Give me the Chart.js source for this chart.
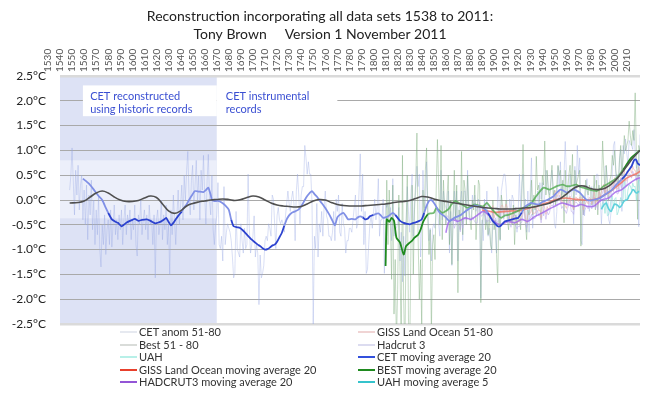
<!DOCTYPE html>
<html>
<head>
<meta charset="utf-8">
<title>CET reconstruction 1538 to 2011</title>
<script src="https://cdn.jsdelivr.net/npm/chart.js@4.4.0/dist/chart.umd.min.js"></script>
<style>
  body { margin: 0; background: #fff; }
  #wrap { position: relative; width: 649px; height: 393px; }
  #legend { position: absolute; left: 0; top: 0; font: 11px Lato, sans-serif; color: #333; }
  .item { position: absolute; white-space: nowrap; line-height: 13px; height: 13px; }
  .swatch { position: absolute; top: 6px; height: 2px; width: 17px; }
</style>
</head>
<body>
<div id="wrap">
  <canvas id="chart" width="649" height="393"></canvas>
  <div id="legend"></div>
</div>
<script>
const titleLines = ['Reconstruction incorporating all data sets 1538 to 2011:', 'Tony Brown     Version 1 November 2011'];
const noteReconstructed = ['CET reconstructed', 'using historic records'];
const noteInstrumental = ['CET instrumental', 'records'];

// legend, read column by column
const legendLeft = ['CET anom 51-80', 'Best 51 - 80', 'UAH', 'GISS Land Ocean moving average 20', 'HADCRUT3 moving average 20'];
const legendRight = ['GISS Land Ocean  51-80', 'Hadcrut 3', 'CET moving average 20', 'BEST  moving average 20', 'UAH moving average 5'];

// annual anomalies (°C)
const cetAnomStart = 1538;
const cetAnom = [
    0.2, 0.5,
    1.05, 0.4, -0.3, 0.6, 0.1, 0.7, -0.2, 0.3, 0.5, -0.4,
    0.2, -0.5, 0.3, -0.8, 0.1, -0.3, 0.4, -0.6, 0.0, -0.9,
    -0.2, -0.7, 0.1, -1.0, -1.35, -0.5, -0.9, -0.3, -1.1, -0.6,
    -0.4, -0.9, -0.2, -0.95, -0.5, -0.1, -0.7, -0.4, -0.8, -0.3,
    -0.6, -0.2, -0.9, -0.4, -0.1, -0.7, -0.3, -0.5, -0.2, -0.8,
    -0.4, -0.6, -0.1, -0.9, -1.13, -0.3, -0.5, 0.0, -0.7, -0.4,
    -0.2, -0.6, -0.3, -0.8, -0.1, -0.5, -0.4, -0.9, -0.3, -1.57,
    -0.4, -0.2, -0.7, -0.5, 0.0, -0.8, -0.3, -0.6, -0.1, -0.9,
    -0.5, -1.5, -0.2, -0.7, 0.1, -0.4, -0.9, -0.3, 0.2, -0.5,
    -0.1, 0.3, -0.4, 0.5, 0.0, 0.6, 0.98, 0.1, -0.3, 0.4,
    0.7, -0.2, 0.3, 0.8, 0.0, 0.5, -0.4, 0.6, 0.2, 0.9,
    0.1, -0.5, 0.4, 0.92, 0.0, -0.3, 0.5, -0.6, -0.9, -0.5,
    -0.32, 0.35, -0.9, -0.98, -0.73, -1.23, 0.27, -0.9, -0.65, -0.48,
    -0.57, -0.65, -0.82, -1.15, -1.57, -1.48, -0.23, -0.98, -1.07, -1.15,
    -0.48, -0.82, -1.07, -0.57, -0.98, -0.9, 0.52, -0.57, -1.07, -0.9,
    -0.73, -0.32, -1.15, -0.9, -1.07, -2.11, -1.11, -1.57, -1.48, -1.32,
    -0.82, -0.73, -0.82, -0.48, -0.57, -0.73, 0.1, 0.02, -0.48, -0.98,
    -0.32, -0.15, -0.4, -0.48, -0.4, -0.48, -0.65, -0.32, -0.07, 0.18,
    -0.07, -0.23, 0.02, 0.18, -0.07, -0.82, 0.18, 0.52, 0.1, -0.48,
    0.1, 0.27, 0.27, 1.1, 0.85, 0.52, 0.77, 0.52, 0.52, -0.07,
    -2.56, -0.73, -0.98, -0.07, -1.15, -0.48, -0.65, -0.23, -0.73, -0.15,
    0.18, -0.32, -0.4, -0.73, -0.73, -0.82, -0.65, -0.23, -0.82, 0.02,
    -0.23, 0.1, -0.65, -0.73, -0.07, -0.48, -0.57, -1.07, -0.82, -0.82,
    -0.57, -0.57, -0.65, -0.4, -0.15, 0.1, -0.57, -0.48, 0.18, 0.93,
    -0.23, 0.52, -0.9, -0.23, -1.48, -1.4, -0.9, -0.48, -0.32, -0.57,
    -0.23, 0.02, -0.4, -0.15, 0.43, -0.73, -0.4, -0.4, 0.02, -1.48,
    -0.07, -0.15, -0.07, -0.32, -0.15, -0.82, 0.43, -0.73, -0.57, -0.57,
    -0.48, -0.15, -1.23, -0.65, -1.65, -0.73, -1.53, -0.48, 0.27, -0.23,
    -0.65, 0.1, 0.52, -0.73, -0.07, 0.18, 0.68, 0.27, 0.52, -1.15,
    -0.48, 0.6, -0.15, -0.15, 0.77, -0.15, -0.82, -0.57, -1.23, -0.57,
    -0.48, -0.57, -0.23, -0.15, -0.48, -0.73, 0.6, -0.4, 0.18, -0.07,
    -0.15, -0.23, 0.18, -1.07, -0.23, -1.32, -0.4, 0.18, -0.4, 0.18,
    -1.23, -0.15, -0.07, 0.18, -0.82, 0.18, 0.18, -0.4, 0.6, -0.32,
    -0.4, -0.4, 0.1, -0.15, 0.1, -0.23, -0.15, 0.02, -0.07, -1.98,
    -0.4, -0.82, 0.02, -0.48, 0.18, -0.73, -0.57, -0.82, -1.07, -0.48,
    -0.48, -0.57, -1.07, 0.27, 0.02, -0.82, 0.18, 0.35, 0.52, 0.52,
    0.27, -0.32, -0.4, 0.02, -0.23, 0.1, 0.02, -0.32, -0.15, -0.65,
    -0.23, 0.52, -0.15, 0.35, 0.52, -0.15, 0.02, -0.65, 0.18, -0.65,
    0.18, 0.85, -0.57, -0.15, -0.15, -0.32, 0.18, -0.07, 0.35, 0.02,
    0.35, -0.32, 0.1, 0.6, 0.52, 0.18, 0.1, 0.27, 0.6, 0.27,
    -0.48, -0.57, -0.23, 0.68, 0.27, 0.77, 0.1, 0.18, 0.52, 1.18,
    0.52, -0.07, -0.07, 0.52, 0.1, 0.02, -0.48, 0.68, 0.1, 1.1,
    0.52, 0.85, -0.82, -0.9, 0.02, -0.32, 0.18, 0.43, 0.02, -0.23,
    0.02, 0.27, -0.15, 0.27, 0.35, 0.52, 0.52, 0.1, 0.02, -0.48,
    0.02, -0.07, 0.68, 0.68, 0.43, -0.4, -0.48, -0.23, 0.52, 1.1,
    1.18, 0.35, 0.52, 0.18, 0.85, 1.02, -0.23, 1.1, 0.93, 1.23,
    0.93, 0.73, 1.2, 1.12, 1.1, 1.02, 1.42, 0.94, 0.64, 0.73,
    -0.54, 1.32
];

const bestStart = 1800;
const best = [
    -1.3, 0.4, -0.9, 0.2, -0.5, -1.6, 0.3, -2.3, -1.2, -2.9,
    -1.8, 0.1, -1.4, -3.0, 0.9, -2.0, -3.2, -0.6, 0.5, -2.4,
    -3.1, -1.0, 0.3, -1.5, -0.2, 0.4, 1.35, -0.8, -2.0, -1.2,
    -2.6, 0.2, -0.4, 0.6, 1.05, -0.3, -1.1, -0.6, -2.7, -0.9,
    -0.7, -1.2, 0.2, 1.22, 0.3, -0.5, 1.1, -0.8, 0.4, -0.2,
    -0.5, 0.1, 0.5, -0.9, 0.0, -1.3, -0.3, 0.6, -0.4, 0.3,
    -1.87, -0.2, -0.6, 0.98, -0.7, 0.4, 0.2, -0.5, 0.5, -0.1,
    -0.4, -0.6, 0.0, -0.2, 0.3, -0.8, -0.3, 0.4, 0.3, -2.07,
    -0.5, -0.3, -0.1, -0.6, -0.4, -0.7, -0.3, -0.9, -1.0, 0.0,
    -0.6, -0.4, -1.1, -1.67, -0.2, -0.8, 0.1, -0.1, -0.3, -0.2,
    0.0, -0.4, -0.6, -0.2, -0.3, -0.5, -0.1, -0.9, -0.3, -0.5,
    -0.4, -0.2, -0.6, 0.1, 1.12, -0.1, -0.5, -0.8, -0.2, -0.3,
    -0.1, 0.4, -0.3, 0.1, -0.2, 0.88, 0.2, 0.3, -0.1, -0.4,
    0.5, 0.3, 1.19, 0.1, 0.6, 0.2, 0.0, 0.4, 0.7, 0.1,
    0.2, -0.1, 0.3, 0.7, 0.5, 0.6, 0.0, 0.4, -0.46, 0.6,
    -0.1, 0.2, 0.5, 0.7, 0.3, 0.92, -0.2, 0.6, 0.3, 0.4,
    0.5, 0.6, -0.93, 0.1, -0.3, 0.0, 0.4, 0.2, 0.1, 0.3,
    0.2, -0.1, 0.0, 0.5, -0.2, 0.4, -0.3, 0.3, 0.0, 0.2,
    1.19, 0.6, 0.1, 0.7, 0.2, 0.0, 0.4, 0.5, 0.9, 0.7,
    1.0, 0.6, 0.4, 0.3, 0.8, 1.1, 0.5, 0.9, 1.3, 1.0,
    1.1, 1.2, 1.59, 1.3, 1.1, 1.4, 1.2, 2.16, 0.9, -0.39,
    1.1, 1.0
];

const gissStart = 1880;
const giss = [
    -0.2, -0.12, -0.1, -0.21, -0.28, -0.32, -0.31, -0.33, -0.2, -0.11,
    -0.36, -0.27, -0.31, -0.32, -0.32, -0.23, -0.11, -0.11, -0.27, -0.17,
    -0.08, -0.15, -0.28, -0.37, -0.47, -0.26, -0.22, -0.39, -0.43, -0.48,
    -0.43, -0.44, -0.36, -0.34, -0.15, -0.14, -0.36, -0.46, -0.3, -0.27,
    -0.27, -0.19, -0.28, -0.26, -0.27, -0.22, -0.1, -0.22, -0.2, -0.36,
    -0.16, -0.1, -0.16, -0.29, -0.13, -0.2, -0.15, -0.03, 0.0, -0.02,
    0.13, 0.19, 0.07, 0.09, 0.2, 0.09, -0.07, -0.03, -0.11, -0.11,
    -0.17, -0.07, 0.01, 0.08, -0.13, -0.14, -0.19, 0.05, 0.06, 0.03,
    -0.03, 0.06, 0.03, 0.05, -0.2, -0.11, -0.06, -0.02, -0.08, 0.05,
    0.03, -0.08, 0.01, 0.16, -0.07, -0.01, -0.1, 0.18, 0.07, 0.16,
    0.26, 0.32, 0.14, 0.31, 0.16, 0.12, 0.18, 0.32, 0.39, 0.27,
    0.45, 0.41, 0.22, 0.23, 0.32, 0.45, 0.33, 0.46, 0.61, 0.38,
    0.39, 0.54, 0.63, 0.62, 0.54, 0.68, 0.61, 0.6, 0.49, 0.59,
    0.66, 0.55
];

const hadcrutStart = 1850;
const hadcrut = [
    -0.47, -0.32, -0.33, -0.37, -0.39, -0.4, -0.42, -0.57, -0.49, -0.38,
    -0.49, -0.53, -0.64, -0.4, -0.57, -0.39, -0.37, -0.41, -0.37, -0.37,
    -0.38, -0.42, -0.34, -0.39, -0.44, -0.47, -0.46, -0.16, -0.05, -0.31,
    -0.33, -0.26, -0.31, -0.34, -0.44, -0.42, -0.41, -0.46, -0.35, -0.23,
    -0.47, -0.36, -0.43, -0.44, -0.42, -0.36, -0.19, -0.21, -0.39, -0.28,
    -0.17, -0.25, -0.35, -0.47, -0.55, -0.38, -0.31, -0.49, -0.53, -0.58,
    -0.53, -0.54, -0.46, -0.45, -0.25, -0.24, -0.46, -0.56, -0.4, -0.38,
    -0.37, -0.29, -0.39, -0.37, -0.37, -0.32, -0.21, -0.32, -0.3, -0.46,
    -0.26, -0.2, -0.26, -0.39, -0.23, -0.3, -0.25, -0.13, -0.1, -0.12,
    0.03, 0.09, -0.03, -0.01, 0.1, -0.01, -0.17, -0.13, -0.21, -0.21,
    -0.27, -0.17, -0.09, -0.02, -0.23, -0.24, -0.29, -0.05, -0.04, -0.07,
    -0.13, -0.04, -0.07, -0.05, -0.3, -0.21, -0.16, -0.12, -0.18, -0.05,
    -0.07, -0.18, -0.09, 0.06, -0.17, -0.11, -0.2, 0.08, -0.03, 0.06,
    0.16, 0.22, 0.04, 0.21, 0.06, 0.02, 0.08, 0.22, 0.29, 0.17,
    0.35, 0.31, 0.12, 0.13, 0.22, 0.35, 0.23, 0.36, 0.51, 0.28,
    0.29, 0.44, 0.53, 0.52, 0.44, 0.58, 0.51, 0.5, 0.39, 0.49,
    0.47, 0.37
];

const uahStart = 1979;
const uah = [
    -0.17, -0.05, -0.08, -0.27, 0.02, -0.32, -0.3, -0.21, 0.04, 0.08,
    -0.17, 0.02, 0.05, -0.3, -0.24, -0.09, 0.05, -0.06, 0.03, 0.52,
    -0.02, 0.0, 0.2, 0.31, 0.28, 0.2, 0.34, 0.26, 0.28, -0.01,
    0.26, 0.41, 0.13
];

// moving averages (year, value)
const cetMAYears = [
    1549, 1554, 1558, 1562, 1565, 1568, 1570, 1573, 1576, 1578, 1581, 1583, 1585, 1588, 1590, 1592, 1595, 1598,
    1602, 1605, 1609, 1612, 1614, 1616, 1618, 1620, 1622, 1624, 1626, 1628, 1631, 1633, 1635, 1637, 1639, 1642,
    1645, 1649, 1651, 1653, 1655, 1656, 1658, 1661, 1664, 1667, 1670, 1672, 1674, 1677, 1679, 1682, 1685, 1687,
    1689, 1692, 1694, 1696, 1698, 1700, 1702, 1704, 1706, 1708, 1710, 1712, 1714, 1716, 1718, 1720, 1722, 1725,
    1728, 1731, 1733, 1735, 1737, 1739, 1741, 1743, 1745, 1747, 1750, 1753, 1756, 1758, 1760, 1762, 1765, 1767,
    1769, 1772, 1775, 1777, 1779, 1781, 1783, 1785, 1787, 1790, 1794, 1796, 1798, 1800, 1802, 1806, 1808, 1810,
    1812, 1815, 1818, 1820, 1822, 1825, 1828, 1830, 1832, 1834, 1836, 1838, 1841, 1843, 1845, 1849, 1851, 1853,
    1855, 1857, 1860, 1863, 1866, 1869, 1872, 1874, 1877, 1880, 1883, 1885, 1887, 1889, 1891, 1893, 1895, 1897,
    1899, 1902, 1905, 1908, 1910, 1913, 1916, 1919, 1921, 1924, 1927, 1930, 1934, 1937, 1939, 1942, 1945, 1948,
    1950, 1953, 1956, 1959, 1961, 1964, 1967, 1970, 1972, 1975, 1978, 1982, 1985, 1988, 1991, 1993, 1996, 1999,
    2001, 2004, 2006, 2007, 2008, 2009, 2010, 2011
];
const cetMA = [
    0.43, 0.33, 0.21, 0.08, 0.0, -0.16, -0.26, -0.39, -0.44, -0.46, -0.53, -0.5, -0.46, -0.42, -0.4, -0.38, -0.42, -0.4,
    -0.39, -0.42, -0.47, -0.45, -0.43, -0.4, -0.36, -0.44, -0.51, -0.46, -0.39, -0.32, -0.23, -0.15, -0.09, 0.0, 0.08, 0.18,
    0.17, 0.16, 0.2, 0.25, 0.1, 0.0, -0.02, -0.02, -0.05, -0.11, -0.2, -0.4, -0.53, -0.55, -0.56, -0.62, -0.7, -0.75,
    -0.8, -0.86, -0.9, -0.93, -0.97, -1.0, -0.99, -0.96, -0.92, -0.9, -0.84, -0.75, -0.66, -0.52, -0.39, -0.31, -0.26, -0.23,
    -0.19, -0.09, 0.0, 0.08, 0.14, 0.18, 0.12, 0.07, 0.0, -0.06, -0.16, -0.28, -0.42, -0.51, -0.35, -0.3, -0.26, -0.32,
    -0.39, -0.38, -0.39, -0.35, -0.33, -0.35, -0.39, -0.38, -0.33, -0.3, -0.27, -0.31, -0.36, -0.35, -0.33, -0.26, -0.3, -0.36,
    -0.42, -0.46, -0.48, -0.49, -0.47, -0.45, -0.42, -0.39, -0.26, -0.12, -0.02, 0.0, -0.09, -0.18, -0.26, -0.33, -0.38, -0.43,
    -0.4, -0.36, -0.33, -0.29, -0.23, -0.18, -0.14, -0.11, -0.13, -0.15, -0.2, -0.26, -0.35, -0.43, -0.48, -0.53, -0.53, -0.48,
    -0.43, -0.41, -0.39, -0.37, -0.36, -0.25, -0.13, -0.08, -0.06, -0.08, -0.09, -0.04, 0.0, 0.04, 0.07, 0.15, 0.21, 0.18,
    0.15, 0.18, 0.21, 0.18, 0.15, 0.07, 0.0, -0.01, 0.0, 0.02, 0.04, 0.11, 0.16, 0.21, 0.3, 0.35, 0.42, 0.5,
    0.58, 0.68, 0.8, 0.82, 0.8, 0.74, 0.72, 0.7
];

const bestMAYears = [
    1800, 1801, 1803, 1805, 1807, 1809, 1812, 1815, 1817, 1820, 1822, 1824, 1827, 1829, 1831, 1833, 1835, 1837,
    1840, 1842, 1844, 1847, 1850, 1852, 1855, 1858, 1861, 1864, 1868, 1871, 1874, 1877, 1881, 1884, 1887, 1891,
    1894, 1896, 1899, 1902, 1905, 1909, 1914, 1920, 1925, 1931, 1936, 1942, 1947, 1950, 1953, 1958, 1961, 1964,
    1969, 1975, 1978, 1981, 1986, 1992, 1997, 2000, 2003, 2007, 2011
];
const bestMA = [
    -1.33, -0.39, -0.44, -0.36, -0.42, -0.76, -0.86, -1.1, -0.93, -0.86, -0.82, -0.76, -0.7, -0.6, -0.45, -0.36, -0.29, -0.27,
    -0.26, -0.16, -0.2, -0.26, -0.22, -0.19, -0.08, -0.02, -0.06, -0.1, -0.16, -0.12, -0.09, -0.11, -0.13, -0.06, -0.15, -0.26,
    -0.33, -0.36, -0.31, -0.3, -0.27, -0.23, -0.16, -0.09, 0.08, 0.25, 0.21, 0.28, 0.31, 0.28, 0.28, 0.31, 0.27, 0.25,
    0.21, 0.18, 0.22, 0.28, 0.35, 0.45, 0.61, 0.72, 0.83, 0.92, 1.0
];

const gissMAYears = [
    1880, 1885, 1890, 1895, 1900, 1905, 1910, 1915, 1920, 1925, 1930, 1935, 1940, 1945, 1950, 1955, 1960, 1965,
    1970, 1975, 1980, 1985, 1990, 1995, 2000, 2005, 2008, 2011
];
const gissMA = [
    -0.2, -0.22, -0.25, -0.24, -0.23, -0.22, -0.22, -0.19, -0.16, -0.13, -0.08, -0.05, 0.0, 0.03, 0.04, 0.02, 0.01, 0.0,
    0.0, 0.02, 0.08, 0.15, 0.24, 0.34, 0.44, 0.5, 0.53, 0.58
];

const hadMAYears = [
    1850, 1852, 1855, 1860, 1866, 1871, 1877, 1881, 1885, 1890, 1895, 1898, 1902, 1907, 1913, 1918, 1924, 1930,
    1935, 1940, 1946, 1951, 1957, 1962, 1968, 1973, 1979, 1985, 1990, 1996, 2001, 2007, 2011
];
const hadMA = [
    -0.66, -0.46, -0.39, -0.43, -0.36, -0.39, -0.29, -0.23, -0.29, -0.43, -0.5, -0.47, -0.43, -0.46, -0.39, -0.43, -0.33, -0.26,
    -0.19, -0.13, -0.06, -0.09, -0.13, -0.09, -0.13, -0.12, 0.0, 0.04, 0.15, 0.21, 0.31, 0.41, 0.45
];

const uahMAStart = 1979;
const uahMA = [
    -0.19, -0.14, -0.1, -0.08, -0.06, -0.12, -0.18, -0.21, -0.23, -0.18,
    -0.12, -0.08, -0.09, -0.1, -0.12, -0.15, -0.13, -0.1, -0.05, -0.02,
    0.0, 0.0, 0.03, 0.09, 0.12, 0.16, 0.21, 0.2, 0.16, 0.14,
    0.15, 0.18
];

// smooth grey curve (not in the legend)
const trendYears = [
    1538, 1545, 1550, 1555, 1560, 1565, 1570, 1575, 1580, 1585, 1590, 1595, 1600, 1605, 1610, 1615, 1620, 1625,
    1630, 1635, 1640, 1645, 1650, 1655, 1660, 1665, 1670, 1675, 1680, 1685, 1690, 1695, 1700, 1705, 1710, 1715,
    1720, 1725, 1730, 1735, 1740, 1745, 1750, 1755, 1760, 1765, 1770, 1775, 1780, 1785, 1790, 1795, 1800, 1805,
    1810, 1815, 1820, 1825, 1830, 1835, 1840, 1845, 1850, 1855, 1860, 1865, 1870, 1875, 1880, 1885, 1890, 1895,
    1900, 1905, 1910, 1915, 1920, 1925, 1930, 1935, 1940, 1945, 1950, 1955, 1960, 1965, 1970, 1975, 1980, 1985,
    1990, 1995, 2000, 2005, 2011
];
const trend = [
    -0.06, -0.05, -0.02, 0.06, 0.14, 0.18, 0.14, 0.06, 0.0, -0.03, -0.03, -0.01, 0.04, 0.08, 0.05, -0.08, -0.22, -0.27,
    -0.22, -0.12, -0.07, -0.04, -0.02, 0.0, 0.01, 0.02, 0.01, -0.01, 0.01, 0.05, 0.08, 0.06, 0.0, -0.06, -0.1, -0.12,
    -0.13, -0.14, -0.13, -0.08, -0.02, 0.01, 0.0, -0.05, -0.09, -0.11, -0.12, -0.12, -0.12, -0.11, -0.1, -0.09, -0.08, -0.06,
    -0.04, -0.03, -0.01, 0.03, 0.07, 0.06, 0.02, -0.01, -0.03, -0.05, -0.07, -0.09, -0.11, -0.13, -0.15, -0.16, -0.17, -0.18,
    -0.18, -0.18, -0.17, -0.16, -0.15, -0.13, -0.1, -0.07, -0.02, 0.03, 0.12, 0.22, 0.28, 0.28, 0.23, 0.21, 0.22, 0.28,
    0.38, 0.52, 0.68, 0.84, 1.0
];

// darker stretches of the CET / BEST averages
const cetDarkSpans = [[1570, 1630], [1671, 1716], [1780, 1790], [1808, 1831], [1885, 1912], [1994, 2012]];
const bestDarkSpans = [[1799, 1835], [1994, 2012]];

function annual(start, values) {
    return values.map((v, i) => ({ x: start + i, y: v }));
}

function paired(years, values) {
    return years.map((yr, i) => ({ x: yr, y: values[i] }));
}

function inSpans(x, spans) {
    return spans.some(s => x >= s[0] && x < s[1]);
}

function faint(label, data, color, legendColor, order) {
    return { label, data, borderColor: color, legendColor, borderWidth: 1, pointRadius: 0, tension: 0, order };
}

const datasets = [
    faint(legendLeft[0], annual(cetAnomStart, cetAnom), 'rgba(150, 165, 228, 0.36)', '#e6e9f0', 20),
    faint(legendLeft[1], annual(bestStart, best), 'rgba(120, 170, 120, 0.42)', '#d9dcd9', 19),
    faint(legendRight[1], annual(hadcrutStart, hadcrut), 'rgba(185, 170, 235, 0.55)', '#dcdcf0', 18),
    faint(legendRight[0], annual(gissStart, giss), 'rgba(235, 170, 170, 0.55)', '#f0d4d4', 17),
    faint(legendLeft[2], annual(uahStart, uah), 'rgba(140, 225, 215, 0.6)', '#b8f0e8', 16),
    {
        label: legendLeft[4], data: paired(hadMAYears, hadMA), borderColor: 'rgba(160, 100, 235, 0.8)', legendColor: '#9355d6',
        borderWidth: 1.6, pointRadius: 0, tension: 0.3, order: 9
    },
    {
        label: legendLeft[3], data: paired(gissMAYears, gissMA), borderColor: 'rgba(240, 110, 95, 0.8)', legendColor: '#e8402c',
        borderWidth: 1.6, pointRadius: 0, tension: 0.3, order: 8
    },
    {
        label: legendRight[4], data: annual(uahMAStart, uahMA), borderColor: '#5fd0dc', legendColor: '#35c3cc',
        borderWidth: 1.6, pointRadius: 0, tension: 0.3, order: 7
    },
    {
        label: legendRight[3], data: paired(bestMAYears, bestMA), borderColor: '#1f8a1f', legendColor: '#1f8a1f',
        borderWidth: 1.8, pointRadius: 0, tension: 0.2, order: 6,
        segment: { borderColor: c => inSpans(c.p0.parsed.x, bestDarkSpans) ? '#1f8a1f' : 'rgba(80, 170, 80, 0.8)' }
    },
    {
        label: legendRight[2], data: paired(cetMAYears, cetMA), borderColor: '#2c42cf', legendColor: '#3250dc',
        borderWidth: 1.8, pointRadius: 0, tension: 0.2, order: 5,
        segment: { borderColor: c => inSpans(c.p0.parsed.x, cetDarkSpans) ? '#2c42cf' : '#8090e6' }
    },
    {
        label: 'trend', data: paired(trendYears, trend), borderColor: '#505050', borderWidth: 1.6,
        pointRadius: 0, tension: 0.4, order: 1
    }
];

const backdropPlugin = {
    id: 'backdrop',
    beforeDraw(chart) {
        const { ctx, chartArea, scales: { x, y } } = chart;
        ctx.save();
        ctx.fillStyle = '#fff';
        ctx.fillRect(0, 0, chart.width, chart.height);
        const left = x.getPixelForValue(1530);
        const right = x.getPixelForValue(1660);
        ctx.fillStyle = '#dde2f5';
        ctx.fillRect(left, chartArea.top, right - left, chartArea.bottom - chartArea.top);
        const bandTop = y.getPixelForValue(0.8);
        const bandBottom = y.getPixelForValue(-0.37);
        ctx.fillStyle = '#eceffa';
        ctx.fillRect(left, bandTop, right - left, bandBottom - bandTop);
        ctx.restore();
    },
    beforeDatasetsDraw(chart) {
        const { ctx, scales: { x, y } } = chart;
        const top = y.getPixelForValue(2.31);
        const bottom = y.getPixelForValue(1.69);
        ctx.save();
        ctx.fillStyle = '#fff';
        ctx.fillRect(x.getPixelForValue(1549), top, x.getPixelForValue(1660) - x.getPixelForValue(1549), bottom - top);
        ctx.fillRect(x.getPixelForValue(1660), top, x.getPixelForValue(1760) - x.getPixelForValue(1660), bottom - top);
        ctx.fillStyle = '#3a4fd2';
        ctx.font = '11px Lato, sans-serif';
        ctx.textBaseline = 'middle';
        noteReconstructed.forEach((line, i) => {
            ctx.fillText(line, x.getPixelForValue(1555), y.getPixelForValue(2.08 - i * 0.26));
        });
        noteInstrumental.forEach((line, i) => {
            ctx.fillText(line, x.getPixelForValue(1667.5), y.getPixelForValue(2.08 - i * 0.26));
        });
        ctx.restore();
    }
};

const chart = new Chart(document.getElementById('chart'), {
    type: 'line',
    data: { datasets },
    options: {
        responsive: false,
        animation: false,
        devicePixelRatio: 1,
        layout: { padding: { left: 0, right: 9, top: 0, bottom: 69 } },
        plugins: {
            legend: { display: false },
            tooltip: { enabled: false },
            title: {
                display: true,
                text: titleLines,
                color: '#222',
                font: { family: 'Lato', size: 14, weight: 'normal', lineHeight: 1.3 },
                padding: { top: 7, bottom: -8 }
            }
        },
        scales: {
            x: {
                type: 'linear',
                position: 'top',
                min: 1530,
                max: 2011,
                grid: { display: false },
                border: { display: false },
                ticks: {
                    stepSize: 10,
                    includeBounds: false,
                    autoSkip: false,
                    minRotation: 90,
                    maxRotation: 90,
                    padding: -4,
                    color: '#555',
                    font: { family: 'Lato', size: 10 },
                    callback: v => String(v)
                },
                afterFit: scale => {
                    scale.height = 40.6;
                    scale.paddingLeft = 0;
                    scale.paddingRight = 0;
                }
            },
            y: {
                min: -2.5,
                max: 2.5,
                border: { display: false },
                grid: {
                    drawTicks: false,
                    color: c => (c.tick && Math.abs(c.tick.value) === 2.5) ? '#dadada' : '#a9a9a9',
                    lineWidth: c => (c.tick && Math.abs(c.tick.value) === 2.5) ? 2.5 : 1
                },
                ticks: {
                    stepSize: 0.5,
                    padding: 14,
                    color: '#222',
                    font: { family: 'Lato', size: 12 },
                    callback: v => v.toFixed(1) + '°C'
                },
                afterFit: scale => {
                    scale.width = 60;
                    scale.paddingTop = 0;
                    scale.paddingBottom = 0;
                }
            }
        }
    },
    plugins: [backdropPlugin]
});

function buildLegend() {
    const legend = document.getElementById('legend');
    const columns = [{ labels: legendLeft, x: 120 }, { labels: legendRight, x: 358 }];
    columns.forEach(col => {
        col.labels.forEach((label, row) => {
            const ds = chart.data.datasets.find(d => d.label === label);
            const item = document.createElement('div');
            item.className = 'item';
            item.style.left = col.x + 'px';
            item.style.top = (325 + row * 12.5) + 'px';
            const swatch = document.createElement('span');
            swatch.className = 'swatch';
            swatch.style.background = ds.legendColor;
            const text = document.createElement('span');
            text.style.marginLeft = '19px';
            text.textContent = label;
            item.appendChild(swatch);
            item.appendChild(text);
            legend.appendChild(item);
        });
    });
}

buildLegend();
</script>
</body>
</html>
